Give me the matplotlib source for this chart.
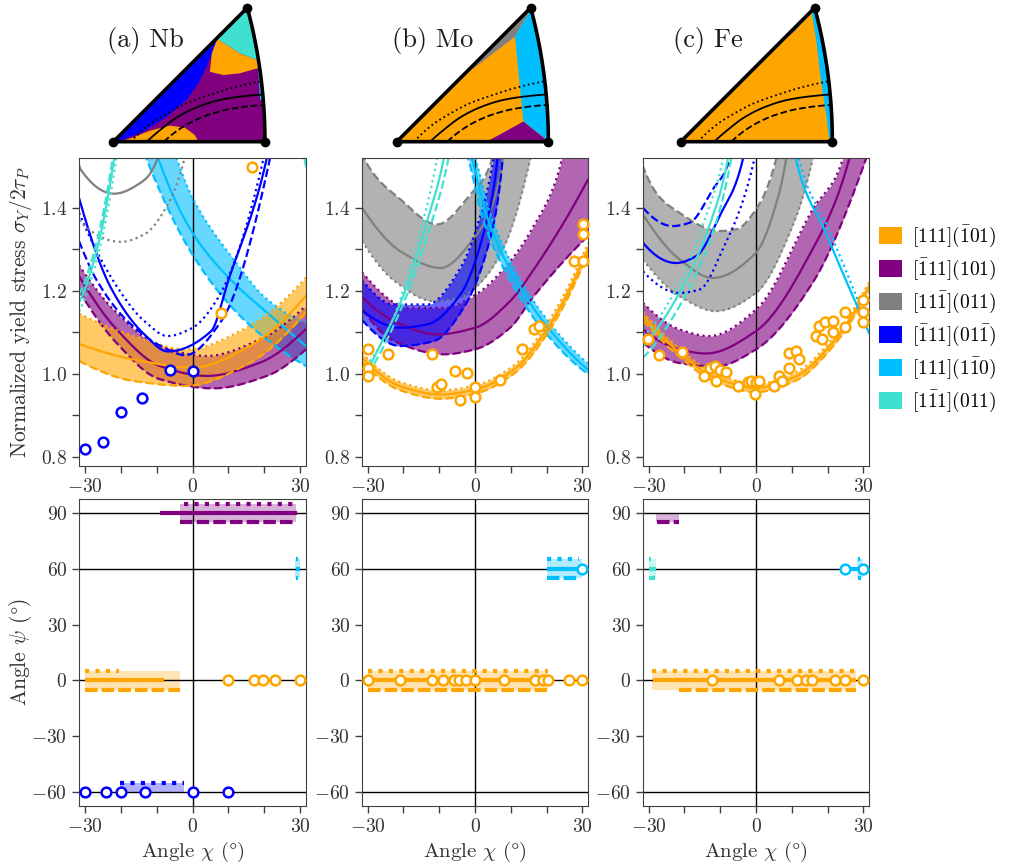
import numpy as np
import matplotlib
matplotlib.use('Agg')
import matplotlib.pyplot as plt
from matplotlib.patches import Patch, Polygon

plt.rcParams.update({
    'font.family': 'serif',
    'font.serif': ['cmr10'],
    'mathtext.fontset': 'cm',
    'axes.formatter.use_mathtext': True,
    'axes.unicode_minus': True,
    'font.size': 14,
    'axes.edgecolor': '0.25',
    'xtick.color': '0.25',
    'ytick.color': '0.25',
    'xtick.labelcolor': '0.2',
    'ytick.labelcolor': '0.2',
    'axes.labelcolor': '0.2',
})

# slip systems: colour and legend label
colors = ['orange', 'purple', 'gray', 'blue', 'deepskyblue', 'turquoise']
labels = [r'$[111](\bar{1}01)$', r'$[\bar{1}11](101)$', r'$[11\bar{1}](011)$',
          r'$[\bar{1}11](01\bar{1})$', r'$[111](1\bar{1}0)$', r'$[1\bar{1}1](011)$']
panel_titles = ['(a) Nb', '(b) Mo', '(c) Fe']

# ---------------- middle row: normalized yield stress vs chi ----------------
# each system: (solid, dotted, dashed) lists of (chi, sigma)
nb_orange = ([(-31.6, 1.072), (-16.6, 1.035), (0, 1.015), (16, 1.067), (31.6, 1.188)],
             [(-31.6, 1.145), (-16.6, 1.092), (-1.7, 1.059), (16, 1.116), (31.6, 1.232)],
             [(-31.6, 1.031), (-16.6, 0.983), (-1.7, 0.971), (16, 1.027), (31.6, 1.148)])
nb_purple = ([(-31.6, 1.236), (-21.2, 1.108), (-9.1, 1.019), (3.9, 0.995), (18.8, 1.027), (31.6, 1.108)],
             [(-31.6, 1.262), (-21.2, 1.148), (-9.1, 1.067), (3.9, 1.043), (18.8, 1.083), (31.6, 1.164)],
             [(-31.6, 1.2), (-21.2, 1.075), (-9.1, 0.987), (5.8, 0.965), (20.7, 0.995), (31.6, 1.059)])
nb_skyblue = ([(-11, 1.56), (-9.6, 1.52), (0, 1.34), (11.4, 1.22), (20.7, 1.148), (31.6, 1.067)],
              [(-6, 1.56), (-4.5, 1.52), (0, 1.424), (11.4, 1.276), (20.7, 1.18), (31.6, 1.124)],
              [(-14.5, 1.56), (-12.9, 1.52), (0, 1.287), (11.4, 1.156), (20.7, 1.083), (31.6, 1.019)])
nb_blue = ([(-31.6, 1.424), (-22.7, 1.207), (-13.4, 1.095), (-6.9, 1.054), (5.2, 1.103), (9.9, 1.223), (20.7, 1.52), (21.5, 1.56)],
           [(-31.6, 1.388), (-20.8, 1.207), (-13.4, 1.127), (-6.9, 1.091), (0, 1.111), (7.1, 1.183), (19.8, 1.52), (20.6, 1.56)],
           [(-31.6, 1.32), (-26.5, 1.223), (-18.1, 1.127), (-8.8, 1.067), (-2, 1.045), (8, 1.127), (21.6, 1.52), (22.4, 1.56)])
nb_gray = ([(-33, 1.56), (-31.1, 1.492), (-21.8, 1.434), (-14.5, 1.46), (-9.7, 1.52), (-9, 1.56)],
           [(-31.6, 1.37), (-19.9, 1.318), (-13.4, 1.336), (-6.9, 1.408), (-2.2, 1.52), (-1.4, 1.56)],
           None)
nb_turq = ([(-31.6, 1.172), (-26.6, 1.30), (-21.8, 1.52), (-21.2, 1.56)],
           [(-31.6, 1.15), (-26.2, 1.29), (-21.2, 1.52), (-20.6, 1.56)],
           [(-31.6, 1.19), (-26.9, 1.31), (-22.2, 1.52), (-21.6, 1.56)])
nb_turq_right = ([(30.2, 1.56), (31.6, 1.50)], None, None)

mo_orange = ([(-31.6, 1.039), (-20.8, 0.970), (-9.7, 0.950), (0, 0.962), (10.8, 1.01), (20.1, 1.107), (31.6, 1.30)],
             [(-31.6, 1.05), (-20.8, 0.98), (-9.7, 0.96), (0, 0.972), (10.8, 1.02), (20.1, 1.12), (31.6, 1.315)],
             [(-31.6, 1.028), (-20.8, 0.96), (-9.7, 0.94), (0, 0.952), (10.8, 1.0), (20.1, 1.095), (31.6, 1.29)])
mo_purple = ([(-31.6, 1.185), (-22.7, 1.127), (-10.6, 1.095), (0, 1.111), (9.8, 1.175), (16.4, 1.251), (31.6, 1.468)],
             [(-31.6, 1.245), (-18, 1.159), (-8.7, 1.159), (0, 1.19), (9.8, 1.271), (16.4, 1.356), (23.8, 1.5), (25, 1.56)],
             [(-31.6, 1.155), (-22.7, 1.079), (-8.7, 1.047), (0, 1.059), (9.8, 1.111), (16.4, 1.187), (31.6, 1.332)])
mo_gray = ([(-31.6, 1.40), (-20.8, 1.295), (-9.7, 1.255), (0, 1.33), (5.2, 1.416), (7.8, 1.52), (8.5, 1.56)],
           [(-31.6, 1.32), (-22.7, 1.225), (-11.5, 1.175), (-4.1, 1.183), (0, 1.207), (7.1, 1.288), (15.4, 1.516), (16.3, 1.56)],
           [(-32.5, 1.56), (-31.1, 1.52), (-20.8, 1.42), (-10.6, 1.36), (-1.3, 1.432), (4.3, 1.504), (5.5, 1.56)])
mo_blue = ([(-31.6, 1.153), (-20.8, 1.111), (-13.4, 1.119), (-4.1, 1.191), (3.3, 1.368), (6.1, 1.504), (6.6, 1.56)],
           [(-31.6, 1.225), (-22.7, 1.167), (-13.4, 1.167), (-4.1, 1.255), (2.4, 1.408), (5.2, 1.52), (5.8, 1.56)],
           [(-31.6, 1.13), (-20.8, 1.067), (-11.5, 1.079), (-3.2, 1.159), (4.3, 1.328), (7.5, 1.496), (8, 1.56)])
mo_skyblue = ([(-2.5, 1.56), (-0.8, 1.516), (3.3, 1.38), (10.8, 1.236), (20.1, 1.115), (31.6, 1.01)],
              [(-1.5, 1.56), (0.2, 1.516), (4.3, 1.385), (11.8, 1.24), (21.1, 1.12), (31.6, 1.025)],
              [(-3.5, 1.56), (-1.8, 1.516), (2.3, 1.37), (9.8, 1.225), (19.1, 1.105), (31.6, 1.0)])
mo_turq = ([(-30.5, 1.0), (-27.4, 1.054), (-19.9, 1.191), (-13.4, 1.368), (-8.7, 1.52), (-8, 1.56)],
           [(-30.5, 1.02), (-23.6, 1.119), (-15.3, 1.344), (-10.6, 1.52), (-9.9, 1.56)],
           [(-30, 1.0), (-19, 1.191), (-12, 1.368), (-7.4, 1.52), (-6.7, 1.56)])

fe_orange = ([(-31.6, 1.139), (-21.4, 1.051), (-12.1, 0.994), (0, 0.966), (11.2, 0.994), (21.4, 1.075), (31.6, 1.211)],
             [(-31.6, 1.149), (-21.4, 1.061), (-12.1, 1.004), (0, 0.976), (11.2, 1.004), (21.4, 1.085), (31.6, 1.221)],
             [(-31.6, 1.129), (-21.4, 1.041), (-12.1, 0.984), (0, 0.956), (11.2, 0.984), (21.4, 1.065), (31.6, 1.201)])
fe_purple = ([(-31.6, 1.107), (-21.4, 1.059), (-14, 1.049), (0, 1.103), (15.8, 1.30), (26, 1.516), (27, 1.56)],
             [(-31.6, 1.171), (-21.4, 1.107), (-13, 1.091), (0, 1.155), (15.8, 1.396), (24.2, 1.516), (25, 1.56)],
             [(-31.6, 1.075), (-21.4, 1.026), (-11.2, 1.018), (0, 1.059), (15.8, 1.219), (30.7, 1.516), (31.6, 1.54)])
fe_gray = ([(-31.6, 1.384), (-21.4, 1.276), (-12.1, 1.231), (0, 1.292), (6.5, 1.436), (8.4, 1.516), (9.2, 1.56)],
           [(-31.6, 1.275), (-21.4, 1.187), (-11.2, 1.151), (0, 1.195), (10.2, 1.356), (15.8, 1.516), (16.7, 1.56)],
           [(-32.5, 1.56), (-31.6, 1.5), (-21.4, 1.388), (-10.2, 1.344), (-5.6, 1.348), (0, 1.396), (5.6, 1.516), (6.5, 1.56)])
fe_blue = ([(-31.6, 1.316), (-22.3, 1.267), (-16.7, 1.284), (-10.2, 1.38), (-3.7, 1.516), (-3, 1.56)],
           [(-31.6, 1.247), (-21.4, 1.195), (-15.8, 1.203), (-9.3, 1.30), (-0.5, 1.516), (0.3, 1.56)],
           [(-31.6, 1.4), (-23.3, 1.356), (-18.6, 1.364), (-12.1, 1.444), (-7.4, 1.516), (-6.7, 1.56)])
fe_skyblue = ([(10.5, 1.56), (11.2, 1.516), (19.5, 1.34), (31.6, 1.099)],
              [(11.4, 1.56), (12.1, 1.516), (20.3, 1.35), (31.6, 1.11)],
              None)
fe_turq = ([(-31.6, 1.067), (-21.4, 1.195), (-12.1, 1.38), (-7.9, 1.516), (-7.2, 1.56)],
           [(-31.6, 1.09), (-21.4, 1.219), (-14, 1.38), (-9.3, 1.516), (-8.6, 1.56)],
           [(-31.6, 1.039), (-21.4, 1.163), (-11.2, 1.364), (-7, 1.516), (-6.3, 1.56)])

# simulation points (open circles)
nb_pts = {'blue': ([-30, -25, -19.9, -14, -6.4, 0], [0.82, 0.836, 0.907, 0.941, 1.009, 1.008]),
          'orange': ([8, 16.5], [1.146, 1.499])}
mo_pts = {'orange': ([-29.9, -29.9, -29.9, -24.4, -12, -10.6, -9.4, -5.7, -4.1, -2.2, 0.1, 0.1, 7.1,
                      13.1, 16.4, 17.8, 27.7, 30.1, 30.1, 30.1],
                     [1.06, 1.014, 0.994, 1.048, 1.048, 0.969, 0.976, 1.006, 0.938, 1.002, 0.969, 0.945, 0.985,
                      1.059, 1.109, 1.115, 1.271, 1.362, 1.336, 1.271])}
fe_pts = {'orange': ([-30.2, -27, -20.7, -14.6, -12.8, -11.6, -11.2, -10.2, -8.4, -5.1, -2.3, -1.4, 0, -0.2, 0.7,
                      4.9, 6.3, 7.3, 9.3, 9.1, 11.2, 12.1, 16.7, 18.4, 17.5, 19.3, 21.4, 21.6, 24.8, 24.9,
                      29.8, 30, 30],
                     [1.083, 1.045, 1.053, 0.994, 1.014, 1.018, 0.982, 1.01, 1.004, 0.97, 0.981, 0.982, 0.981,
                      0.952, 0.982, 0.97, 0.994, 0.982, 1.013, 1.051, 1.055, 1.036, 1.092, 1.083, 1.116, 1.124,
                      1.1, 1.128, 1.113, 1.149, 1.179, 1.149, 1.124])}

# draw order and which bands are shaded, per panel
nb_systems = [('deepskyblue', nb_skyblue, True), ('purple', nb_purple, True), ('orange', nb_orange, True),
              ('blue', nb_blue, False), ('gray', nb_gray, False), ('turquoise', nb_turq, False),
              ('turquoise', nb_turq_right, False)]
mo_systems = [('gray', mo_gray, True), ('purple', mo_purple, True), ('blue', mo_blue, True),
              ('deepskyblue', mo_skyblue, True), ('orange', mo_orange, True), ('turquoise', mo_turq, False)]
fe_systems = [('gray', fe_gray, True), ('purple', fe_purple, True), ('orange', fe_orange, True),
              ('blue', fe_blue, False), ('deepskyblue', fe_skyblue, False), ('turquoise', fe_turq, False)]

# ---------------- bottom row: plane angle psi vs chi ----------------
# (colour, psi, solid range, dotted range, dashed range, shaded range)
nb_bars = [('purple', 90, (-9, 29), (-2.3, 28.5), (-3.5, 28.6), (-3.6, 28.8)),
           ('deepskyblue', 60, (28.7, 29.8), (28.9, 29.3), (28.9, 29.3), (28.6, 29.8)),
           ('orange', 0, (-30, -8), (-30, -20.5), (-30, -3.6), (-30, -3.6)),
           ('blue', -60, None, (-20.3, -2.5), None, (-20.3, -2.4))]
mo_bars = [('orange', 0, (-30, 20), (-30, 20.5), (-30, 20), (-30, 20.5)),
           ('deepskyblue', 60, (20, 30), (20, 29), (20, 29), (20, 29.8))]
fe_bars = [('purple', 90, None, None, (-27.8, -21.5), (-28, -21.5)),
           ('turquoise', 60, (-30, -28), (-29.8, -29.3), (-29.8, -28.3), (-30, -28)),
           ('orange', 0, (-28.8, 28), (-29, 28), (-21.4, 28), (-29, 28)),
           ('deepskyblue', 60, (26, 29.5), (28.6, 29.2), (28.6, 29.5), (28.3, 29.8))]

nb_psi_pts = {'orange': ([10, 17, 19.5, 23, 30], 0), 'blue': ([-30, -24.1, -19.9, -13.1, 0, 10], -60)}
mo_psi_pts = {'orange': ([-30, -21.1, -12, -9, -5.8, -4.4, -2.4, 0, 8, 16.7, 18.9, 20.3, 26.4, 30], 0),
              'deepskyblue': ([30], 60)}
fe_psi_pts = {'orange': ([-12.3, 6.5, 11.4, 14, 15.6, 22.1, 24.8, 30], 0),
              'deepskyblue': ([24.8, 30], 60)}
psi_planes = [-60, 0, 60, 90]

# ---------------- stereographic triangles ----------------
# loading paths (stereographic coordinates)
tri_dotted = [(0.047, 0.0), (0.100, 0.048), (0.146, 0.077), (0.200, 0.105), (0.264, 0.128), (0.328, 0.148), (0.405, 0.165)]
tri_solid = [(0.091, 0.0), (0.128, 0.032), (0.173, 0.066), (0.228, 0.094), (0.291, 0.114), (0.346, 0.123), (0.410, 0.129)]
tri_dashed = [(0.138, 0.0), (0.173, 0.029), (0.210, 0.052), (0.264, 0.075), (0.328, 0.091), (0.410, 0.100)]

# active-system regions (drawn over a background colour, clipped to the triangle)
nb_regions = [('purple', None),
              ('blue', [(-0.02, -0.01), (0.018, 0.003), (0.082, 0.027), (0.146, 0.068), (0.200, 0.114), (0.232, 0.159),
                        (0.255, 0.205), (0.269, 0.241), (0.282, 0.280), (0.29, 0.30), (0.0, 0.3)]),
              ('turquoise', [(0.284, 0.280), (0.310, 0.264), (0.346, 0.241), (0.392, 0.223), (0.45, 0.22),
                             (0.45, 0.40), (0.28, 0.40)]),
              ('orange', [(0.284, 0.280), (0.310, 0.264), (0.346, 0.241), (0.392, 0.223), (0.45, 0.223), (0.45, 0.2),
                          (0.392, 0.200), (0.346, 0.187), (0.301, 0.182), (0.264, 0.191), (0.269, 0.241)]),
              ('deepskyblue', [(0.394, 0.205), (0.45, 0.205), (0.45, 0.115), (0.400, 0.115)]),
              ('orange', [(0.018, -0.02), (0.018, 0.0), (0.055, 0.012), (0.100, 0.030), (0.155, 0.044), (0.196, 0.038),
                          (0.223, 0.018), (0.232, 0.0), (0.232, -0.02)])]
mo_regions = [('orange', None),
              ('gray', [(0.17, 0.17), (0.323, 0.287), (0.360, 0.351), (0.37, 0.40), (0.1, 0.4)]),
              ('deepskyblue', [(0.323, 0.287), (0.360, 0.351), (0.37, 0.40), (0.5, 0.4), (0.5, -0.05), (0.45, -0.05),
                               (0.415, 0.0), (0.346, 0.055)]),
              ('purple', [(0.246, -0.02), (0.246, 0.0), (0.346, 0.055), (0.415, 0.0), (0.43, -0.02)])]
fe_regions = [('orange', None),
              ('gray', [(0.27, 0.27), (0.312, 0.302), (0.35, 0.345), (0.358, 0.362), (0.35, 0.40), (0.1, 0.4)]),
              ('deepskyblue', [(0.35, 0.40), (0.356, 0.362), (0.370, 0.279), (0.384, 0.160), (0.398, 0.069),
                               (0.406, 0.005), (0.41, -0.02), (0.5, -0.02), (0.5, 0.4)]),
              ('purple', [(0.38, -0.01), (0.405, 0.006), (0.42, -0.01)])]


def pchip(x, y, xs):
    # shape-preserving cubic through the read points
    h = np.diff(x)
    d = np.diff(y) / h
    n = len(x)
    m = np.zeros(n)
    if n == 2:
        m[:] = d[0]
    else:
        for k in range(1, n - 1):
            if d[k - 1] * d[k] > 0:
                w1 = 2 * h[k] + h[k - 1]
                w2 = h[k] + 2 * h[k - 1]
                m[k] = (w1 + w2) / (w1 / d[k - 1] + w2 / d[k])
        m[0] = ((2 * h[0] + h[1]) * d[0] - h[0] * d[1]) / (h[0] + h[1])
        if m[0] * d[0] <= 0:
            m[0] = 0
        m[-1] = ((2 * h[-1] + h[-2]) * d[-1] - h[-1] * d[-2]) / (h[-1] + h[-2])
        if m[-1] * d[-1] <= 0:
            m[-1] = 0
    i = np.clip(np.searchsorted(x, xs) - 1, 0, n - 2)
    t = (xs - x[i]) / h[i]
    h00 = 2 * t ** 3 - 3 * t ** 2 + 1
    h10 = t ** 3 - 2 * t ** 2 + t
    h01 = -2 * t ** 3 + 3 * t ** 2
    h11 = t ** 3 - t ** 2
    return h00 * y[i] + h10 * h[i] * m[i] + h01 * y[i + 1] + h11 * h[i] * m[i + 1]


def smooth(pts, n=300):
    x, y = np.array(pts, float).T
    xs = np.linspace(x.min(), x.max(), n)
    return xs, pchip(x, y, xs)


def on_grid(pts, grid):
    x, y = np.array(pts, float).T
    v = pchip(x, y, grid)
    v[grid < x.min()] = 3.0 if y[0] > 1.5 else np.nan
    v[grid > x.max()] = 3.0 if y[-1] > 1.5 else np.nan
    return v


DOT = (0, (1, 1.6))
XLIM = (-31.6, 31.6)


def draw_yield(ax, systems, pts):
    grid = np.linspace(XLIM[0], XLIM[1], 600)
    for color, curves, shade in systems:
        solid, dotted, dashed = curves
        if shade:
            lo = on_grid(dashed, grid)
            hi = on_grid(dotted, grid)
            ok = ~(np.isnan(lo) | np.isnan(hi))
            ax.fill_between(grid, lo, hi, where=ok, color=color, alpha=0.6, lw=0)
        for c, ls in [(solid, '-'), (dotted, DOT), (dashed, '--')]:
            if c:
                xs, ys = smooth(c)
                ax.plot(xs, ys, color=color, ls=ls, lw=1.6)
    for color, (x, y) in pts.items():
        ax.plot(x, y, 'o', ms=7, mfc='white', mec=color, mew=1.8, ls='none', zorder=5, clip_on=False)
    ax.axvline(0, color='k', lw=1, zorder=1.5)
    ax.set_xlim(XLIM)
    ax.set_ylim(0.778, 1.52)
    ax.set_yticks([0.8, 1.0, 1.2, 1.4])
    ax.set_yticks([0.9, 1.1, 1.3], minor=True)
    ax.yaxis.set_major_formatter(matplotlib.ticker.FormatStrFormatter(r'$%.1f$'))


def draw_psi(ax, bars, pts):
    for y in psi_planes:
        ax.axhline(y, color='k', lw=1, zorder=1.5)
    ax.axvline(0, color='k', lw=1, zorder=1.5)
    for color, psi, s, d, a, f in bars:
        lo = psi - 5 if a else psi
        hi = psi + 5 if d else psi
        ax.fill_between(f, lo, hi, color=color, alpha=0.3, lw=0)
        if s:
            ax.plot(s, [psi, psi], color=color, lw=3, solid_capstyle='butt')
        if d:
            ax.plot(d, [psi + 5, psi + 5], color=color, lw=3, ls=(0, (1, 1.5)))
        if a:
            ax.plot(a, [psi - 5, psi - 5], color=color, lw=3, ls=(0, (3, 1)))
    for color, (x, psi) in pts.items():
        ax.plot(x, [psi] * len(x), 'o', ms=7, mfc='white', mec=color, mew=1.8, ls='none', zorder=5, clip_on=False)
    ax.set_xlim(XLIM)
    ax.set_ylim(-67.5, 97.5)
    ax.set_yticks([-60, -30, 0, 30, 60, 90])
    ax.set_xlabel(r'Angle $\chi$ ($\degree$)', fontsize=15, labelpad=3)


def draw_triangle(ax, regions):
    t = np.linspace(0, 1, 80)
    r = np.sqrt(2 + t ** 2)
    arc = np.column_stack([1 / (r + 1), t / (r + 1)])
    outline = np.vstack([[0, 0], arc])
    clip = Polygon(outline, closed=True, transform=ax.transData, fc='none', ec='none')
    ax.add_patch(clip)
    for color, poly in regions:
        if poly is None:
            p = Polygon(outline, closed=True, fc=color, ec='none')
        else:
            p = Polygon(poly, closed=True, fc=color, ec='none')
        ax.add_patch(p)
        p.set_clip_path(clip)
    for c, ls in [(tri_solid, '-'), (tri_dotted, ':'), (tri_dashed, '--')]:
        xs, ys = smooth(c, 100)
        ln, = ax.plot(xs, ys, color='k', lw=1.3, ls=ls)
        ln.set_clip_path(clip)
    ax.add_patch(Polygon(outline, closed=True, fc='none', ec='k', lw=2.6, joinstyle='round'))
    ax.plot([0, outline[1, 0], outline[-1, 0]], [0, 0, outline[-1, 1]], 'o', color='k', ms=6, clip_on=False)
    ax.set_xlim(-0.04, 0.44)
    ax.set_ylim(-0.02, 0.385)
    ax.set_aspect('equal')
    ax.axis('off')


W, H = 1010, 867
fig = plt.figure(figsize=(W / 100, H / 100), dpi=100)


def rect(left, top, right, bottom):
    return [left / W, 1 - bottom / H, (right - left) / W, (bottom - top) / H]


cols = [(79, 306), (362, 588), (643, 869)]
tri_left = [98.7, 382.1, 666.1]
title_x = [107, 392, 673]
sys_list = [nb_systems, mo_systems, fe_systems]
pts_list = [nb_pts, mo_pts, fe_pts]
bar_list = [nb_bars, mo_bars, fe_bars]
psi_pts_list = [nb_psi_pts, mo_psi_pts, fe_psi_pts]
reg_list = [nb_regions, mo_regions, fe_regions]

for i, (l, r) in enumerate(cols):
    ax_m = fig.add_axes(rect(l, 158, r, 466))
    draw_yield(ax_m, sys_list[i], pts_list[i])
    ax_b = fig.add_axes(rect(l, 499, r, 806))
    draw_psi(ax_b, bar_list[i], psi_pts_list[i])
    for ax in (ax_m, ax_b):
        ax.set_xticks([-30, 0, 30])
        ax.set_xticks([-20, -10, 10, 20], minor=True)
        ax.tick_params(which='both', length=5, width=1, labelsize=14)
    if i == 0:
        ax_m.set_ylabel(r'Normalized yield stress $\sigma_Y/2\tau_P$', fontsize=15.5)
        ax_b.set_ylabel(r'Angle $\psi$ ($\degree$)', fontsize=15.5)
        ax_m.yaxis.set_label_coords(-0.2, 0.5)
        ax_b.yaxis.set_label_coords(-0.2, 0.5)
    ax_t = fig.add_axes(rect(tri_left[i], 0.8, tri_left[i] + 175.7, 149))
    draw_triangle(ax_t, reg_list[i])
    fig.text(title_x[i] / W, 1 - 40 / H, panel_titles[i], fontsize=19, va='center', color='0.1')

handles = [Patch(facecolor=c, edgecolor='none', label=lab) for c, lab in zip(colors, labels)]
fig.legend(handles=handles, loc='upper left', bbox_to_anchor=(879 / W, 1 - 224 / H), frameon=False,
           fontsize=14, handlelength=1.2, handleheight=1.0, labelspacing=0.4, handletextpad=0.5,
           borderaxespad=0, borderpad=0)

fig.savefig('out.png', dpi=100)
